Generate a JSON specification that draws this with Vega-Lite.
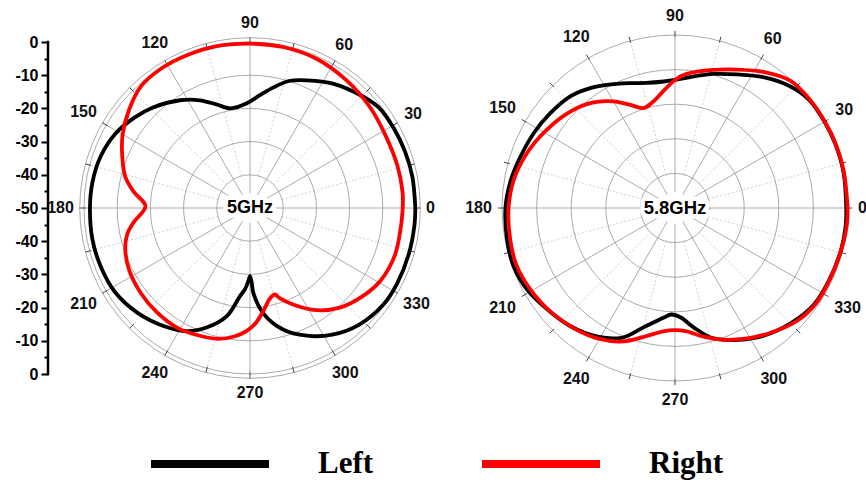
{
"$schema": "https://vega.github.io/schema/vega-lite/v6.json",
"width": 866, "height": 487, "autosize": "none", "padding": 0, "background": "white",
"config": {"view": {"stroke": null}, "font": "Liberation Sans",
  "axisY": {"domain": false, "grid": false, "title": null, "tickColor": "black", "tickWidth": 2, "labelFont": "Liberation Sans", "labelFontSize": 16, "labelFontWeight": "bold", "labelColor": "black", "labelPadding": 3}},
"datasets": {
"pattern": [
{"freq":"5GHz","port":"Left","angle":0,"gain":-0.2},{"freq":"5GHz","port":"Left","angle":11,"gain":-0.2},{"freq":"5GHz","port":"Left","angle":20,"gain":-0.3},{"freq":"5GHz","port":"Left","angle":29,"gain":-0.5},{"freq":"5GHz","port":"Left","angle":38,"gain":-0.8},{"freq":"5GHz","port":"Left","angle":45,"gain":-2.3},{"freq":"5GHz","port":"Left","angle":56,"gain":-4.9},{"freq":"5GHz","port":"Left","angle":66,"gain":-7.9},{"freq":"5GHz","port":"Left","angle":73,"gain":-10},{"freq":"5GHz","port":"Left","angle":79,"gain":-13},{"freq":"5GHz","port":"Left","angle":85,"gain":-15.9},{"freq":"5GHz","port":"Left","angle":92,"gain":-18.5},{"freq":"5GHz","port":"Left","angle":101,"gain":-19.4},{"freq":"5GHz","port":"Left","angle":108,"gain":-17.2},{"freq":"5GHz","port":"Left","angle":115,"gain":-14.2},{"freq":"5GHz","port":"Left","angle":123,"gain":-11.3},{"freq":"5GHz","port":"Left","angle":134,"gain":-7.9},{"freq":"5GHz","port":"Left","angle":142,"gain":-5.8},{"freq":"5GHz","port":"Left","angle":151,"gain":-3.7},{"freq":"5GHz","port":"Left","angle":161,"gain":-2.4},{"freq":"5GHz","port":"Left","angle":171,"gain":-1.9},{"freq":"5GHz","port":"Left","angle":180,"gain":-1.8},{"freq":"5GHz","port":"Left","angle":191,"gain":-1.6},{"freq":"5GHz","port":"Left","angle":201,"gain":-1.7},{"freq":"5GHz","port":"Left","angle":212,"gain":-2.1},{"freq":"5GHz","port":"Left","angle":223,"gain":-3.7},{"freq":"5GHz","port":"Left","angle":234,"gain":-6},{"freq":"5GHz","port":"Left","angle":243,"gain":-8.4},{"freq":"5GHz","port":"Left","angle":250,"gain":-11.7},{"freq":"5GHz","port":"Left","angle":258,"gain":-16.8},{"freq":"5GHz","port":"Left","angle":263.5,"gain":-23.3},{"freq":"5GHz","port":"Left","angle":266.5,"gain":-25.5},{"freq":"5GHz","port":"Left","angle":268.7,"gain":-28},{"freq":"5GHz","port":"Left","angle":270,"gain":-29.5},{"freq":"5GHz","port":"Left","angle":271.3,"gain":-27.5},{"freq":"5GHz","port":"Left","angle":272.2,"gain":-24.5},{"freq":"5GHz","port":"Left","angle":277,"gain":-18.2},{"freq":"5GHz","port":"Left","angle":285,"gain":-12.2},{"freq":"5GHz","port":"Left","angle":294,"gain":-7.9},{"freq":"5GHz","port":"Left","angle":303,"gain":-4.5},{"freq":"5GHz","port":"Left","angle":313,"gain":-1.9},{"freq":"5GHz","port":"Left","angle":324,"gain":-0.4},{"freq":"5GHz","port":"Left","angle":333,"gain":-0.2},{"freq":"5GHz","port":"Left","angle":344,"gain":-0.2},{"freq":"5GHz","port":"Left","angle":354,"gain":-0.2},{"freq":"5GHz","port":"Left","angle":360,"gain":-0.2},
{"freq":"5GHz","port":"Right","angle":0,"gain":-4.0},{"freq":"5GHz","port":"Right","angle":6,"gain":-3.8},{"freq":"5GHz","port":"Right","angle":16,"gain":-3.8},{"freq":"5GHz","port":"Right","angle":28,"gain":-3.7},{"freq":"5GHz","port":"Right","angle":40,"gain":-2.8},{"freq":"5GHz","port":"Right","angle":53,"gain":-1.8},{"freq":"5GHz","port":"Right","angle":66,"gain":-0.8},{"freq":"5GHz","port":"Right","angle":78,"gain":-0.5},{"freq":"5GHz","port":"Right","angle":90,"gain":-0.5},{"freq":"5GHz","port":"Right","angle":102,"gain":-0.2},{"freq":"5GHz","port":"Right","angle":112,"gain":-0.2},{"freq":"5GHz","port":"Right","angle":122,"gain":-0.2},{"freq":"5GHz","port":"Right","angle":132,"gain":-0.8},{"freq":"5GHz","port":"Right","angle":141,"gain":-3.1},{"freq":"5GHz","port":"Right","angle":150,"gain":-5.7},{"freq":"5GHz","port":"Right","angle":158,"gain":-8.5},{"freq":"5GHz","port":"Right","angle":166,"gain":-11.3},{"freq":"5GHz","port":"Right","angle":172,"gain":-14.6},{"freq":"5GHz","port":"Right","angle":179,"gain":-18.5},{"freq":"5GHz","port":"Right","angle":187,"gain":-14.7},{"freq":"5GHz","port":"Right","angle":192,"gain":-12.2},{"freq":"5GHz","port":"Right","angle":198,"gain":-10.5},{"freq":"5GHz","port":"Right","angle":207,"gain":-9.1},{"freq":"5GHz","port":"Right","angle":218,"gain":-8.3},{"freq":"5GHz","port":"Right","angle":228,"gain":-7.9},{"freq":"5GHz","port":"Right","angle":239,"gain":-7.8},{"freq":"5GHz","port":"Right","angle":249,"gain":-8.7},{"freq":"5GHz","port":"Right","angle":256,"gain":-9.4},{"freq":"5GHz","port":"Right","angle":263,"gain":-11},{"freq":"5GHz","port":"Right","angle":268.5,"gain":-13},{"freq":"5GHz","port":"Right","angle":273,"gain":-15.4},{"freq":"5GHz","port":"Right","angle":278,"gain":-19.2},{"freq":"5GHz","port":"Right","angle":282,"gain":-21.9},{"freq":"5GHz","port":"Right","angle":286,"gain":-22.9},{"freq":"5GHz","port":"Right","angle":288,"gain":-21.5},{"freq":"5GHz","port":"Right","angle":294,"gain":-18.2},{"freq":"5GHz","port":"Right","angle":303,"gain":-13.3},{"freq":"5GHz","port":"Right","angle":312,"gain":-9.6},{"freq":"5GHz","port":"Right","angle":322,"gain":-6.9},{"freq":"5GHz","port":"Right","angle":331,"gain":-5},{"freq":"5GHz","port":"Right","angle":342,"gain":-4.1},{"freq":"5GHz","port":"Right","angle":353,"gain":-4.2},{"freq":"5GHz","port":"Right","angle":360,"gain":-4.0},
{"freq":"5.8GHz","port":"Left","angle":0,"gain":-0.5},{"freq":"5.8GHz","port":"Left","angle":12,"gain":-0.2},{"freq":"5.8GHz","port":"Left","angle":22,"gain":-0.1},{"freq":"5.8GHz","port":"Left","angle":30,"gain":-0.1},{"freq":"5.8GHz","port":"Left","angle":39,"gain":-0.2},{"freq":"5.8GHz","port":"Left","angle":47,"gain":-1.7},{"freq":"5.8GHz","port":"Left","angle":56,"gain":-4.4},{"freq":"5.8GHz","port":"Left","angle":65,"gain":-7.4},{"freq":"5.8GHz","port":"Left","angle":74,"gain":-9.7},{"freq":"5.8GHz","port":"Left","angle":83.5,"gain":-11.9},{"freq":"5.8GHz","port":"Left","angle":90,"gain":-13},{"freq":"5.8GHz","port":"Left","angle":95,"gain":-13.3},{"freq":"5.8GHz","port":"Left","angle":103,"gain":-12.9},{"freq":"5.8GHz","port":"Left","angle":110,"gain":-11.6},{"freq":"5.8GHz","port":"Left","angle":119,"gain":-9.3},{"freq":"5.8GHz","port":"Left","angle":125,"gain":-7.6},{"freq":"5.8GHz","port":"Left","angle":133,"gain":-5.8},{"freq":"5.8GHz","port":"Left","angle":143,"gain":-4.7},{"freq":"5.8GHz","port":"Left","angle":152,"gain":-3.8},{"freq":"5.8GHz","port":"Left","angle":162,"gain":-2.9},{"freq":"5.8GHz","port":"Left","angle":171,"gain":-1.8},{"freq":"5.8GHz","port":"Left","angle":180,"gain":-1},{"freq":"5.8GHz","port":"Left","angle":191,"gain":-0.6},{"freq":"5.8GHz","port":"Left","angle":200,"gain":-0.4},{"freq":"5.8GHz","port":"Left","angle":209,"gain":-1.2},{"freq":"5.8GHz","port":"Left","angle":218,"gain":-2.8},{"freq":"5.8GHz","port":"Left","angle":228,"gain":-4.3},{"freq":"5.8GHz","port":"Left","angle":239,"gain":-6.6},{"freq":"5.8GHz","port":"Left","angle":248,"gain":-9.6},{"freq":"5.8GHz","port":"Left","angle":255,"gain":-14.2},{"freq":"5.8GHz","port":"Left","angle":264,"gain":-18.1},{"freq":"5.8GHz","port":"Left","angle":268,"gain":-19.2},{"freq":"5.8GHz","port":"Left","angle":273,"gain":-18.3},{"freq":"5.8GHz","port":"Left","angle":279,"gain":-15},{"freq":"5.8GHz","port":"Left","angle":286,"gain":-10.9},{"freq":"5.8GHz","port":"Left","angle":296,"gain":-7.6},{"freq":"5.8GHz","port":"Left","angle":304.5,"gain":-5.1},{"freq":"5.8GHz","port":"Left","angle":315,"gain":-2.8},{"freq":"5.8GHz","port":"Left","angle":325,"gain":-1.1},{"freq":"5.8GHz","port":"Left","angle":335,"gain":-0.8},{"freq":"5.8GHz","port":"Left","angle":346,"gain":-0.5},{"freq":"5.8GHz","port":"Left","angle":354,"gain":-0.4},{"freq":"5.8GHz","port":"Left","angle":360,"gain":-0.5},
{"freq":"5.8GHz","port":"Right","angle":0,"gain":-0.1},{"freq":"5.8GHz","port":"Right","angle":12,"gain":-0.1},{"freq":"5.8GHz","port":"Right","angle":21,"gain":0},{"freq":"5.8GHz","port":"Right","angle":30,"gain":0},{"freq":"5.8GHz","port":"Right","angle":39,"gain":0},{"freq":"5.8GHz","port":"Right","angle":48,"gain":-0.4},{"freq":"5.8GHz","port":"Right","angle":57,"gain":-3.1},{"freq":"5.8GHz","port":"Right","angle":66,"gain":-6.2},{"freq":"5.8GHz","port":"Right","angle":74.5,"gain":-8.6},{"freq":"5.8GHz","port":"Right","angle":85,"gain":-11.1},{"freq":"5.8GHz","port":"Right","angle":90,"gain":-13},{"freq":"5.8GHz","port":"Right","angle":96,"gain":-16.2},{"freq":"5.8GHz","port":"Right","angle":101.5,"gain":-18.6},{"freq":"5.8GHz","port":"Right","angle":107.5,"gain":-19.7},{"freq":"5.8GHz","port":"Right","angle":113.5,"gain":-17.5},{"freq":"5.8GHz","port":"Right","angle":120,"gain":-14.4},{"freq":"5.8GHz","port":"Right","angle":129,"gain":-11},{"freq":"5.8GHz","port":"Right","angle":139,"gain":-8.5},{"freq":"5.8GHz","port":"Right","angle":150,"gain":-6.3},{"freq":"5.8GHz","port":"Right","angle":160,"gain":-4.3},{"freq":"5.8GHz","port":"Right","angle":170,"gain":-2.7},{"freq":"5.8GHz","port":"Right","angle":180,"gain":-1.9},{"freq":"5.8GHz","port":"Right","angle":191,"gain":-1.5},{"freq":"5.8GHz","port":"Right","angle":200,"gain":-1.3},{"freq":"5.8GHz","port":"Right","angle":209,"gain":-2},{"freq":"5.8GHz","port":"Right","angle":220,"gain":-3.2},{"freq":"5.8GHz","port":"Right","angle":230,"gain":-4.6},{"freq":"5.8GHz","port":"Right","angle":240,"gain":-6.3},{"freq":"5.8GHz","port":"Right","angle":249,"gain":-8.7},{"freq":"5.8GHz","port":"Right","angle":257.5,"gain":-12.1},{"freq":"5.8GHz","port":"Right","angle":264.5,"gain":-14.2},{"freq":"5.8GHz","port":"Right","angle":270,"gain":-14.7},{"freq":"5.8GHz","port":"Right","angle":275.5,"gain":-14.2},{"freq":"5.8GHz","port":"Right","angle":282.5,"gain":-11.9},{"freq":"5.8GHz","port":"Right","angle":290,"gain":-9.5},{"freq":"5.8GHz","port":"Right","angle":299,"gain":-6.9},{"freq":"5.8GHz","port":"Right","angle":307,"gain":-4.7},{"freq":"5.8GHz","port":"Right","angle":317,"gain":-2},{"freq":"5.8GHz","port":"Right","angle":326,"gain":-0.8},{"freq":"5.8GHz","port":"Right","angle":336,"gain":-0.7},{"freq":"5.8GHz","port":"Right","angle":347,"gain":-0.4},{"freq":"5.8GHz","port":"Right","angle":354,"gain":-0.1},{"freq":"5.8GHz","port":"Right","angle":360,"gain":-0.1}
],
"rings": [
{"panel":"L","db":-40},{"panel":"L","db":-30},{"panel":"L","db":-20},{"panel":"L","db":-10},{"panel":"L","db":0},{"panel":"L","db":1.3},
{"panel":"R","db":-40},{"panel":"R","db":-30},{"panel":"R","db":-20},{"panel":"R","db":-10},{"panel":"R","db":0}
],
"spokes": [
{"angle":0,"kind":"major"},{"angle":30,"kind":"major"},{"angle":60,"kind":"major"},{"angle":90,"kind":"major"},{"angle":120,"kind":"major"},{"angle":150,"kind":"major"},{"angle":180,"kind":"major"},{"angle":210,"kind":"major"},{"angle":240,"kind":"major"},{"angle":270,"kind":"major"},{"angle":300,"kind":"major"},{"angle":330,"kind":"major"},
{"angle":15,"kind":"minor"},{"angle":45,"kind":"minor"},{"angle":75,"kind":"minor"},{"angle":105,"kind":"minor"},{"angle":135,"kind":"minor"},{"angle":165,"kind":"minor"},{"angle":195,"kind":"minor"},{"angle":225,"kind":"minor"},{"angle":255,"kind":"minor"},{"angle":285,"kind":"minor"},{"angle":315,"kind":"minor"},{"angle":345,"kind":"minor"}
],
"alabels": [
{"angle":0,"label":"0"},{"angle":30,"label":"30"},{"angle":60,"label":"60"},{"angle":90,"label":"90"},{"angle":120,"label":"120"},{"angle":150,"label":"150"},{"angle":180,"label":"180"},{"angle":210,"label":"210"},{"angle":240,"label":"240"},{"angle":270,"label":"270"},{"angle":300,"label":"300"},{"angle":330,"label":"330"}
],
"centers": [{"panel":"L","label":"5GHz"},{"panel":"R","label":"5.8GHz"}]
},
"layer": [
{
"encoding": {
  "y": {"type": "quantitative", "scale": {"domain": [-84.036, 62.651], "nice": false, "zero": false},
        "axis": {"values": [-50,-45,-40,-35,-30,-25,-20,-15,-10,-5,0,5,10,15,20,25,30,35,40,45,50],
                 "labelExpr": "abs(datum.value) % 10 == 0 ? '' + (abs(datum.value) - 50) : ''",
                 "offset": -48, "orient": "left",
                 "tickSize": {"condition": {"test": "abs(datum.value) % 10 == 0", "value": 7}, "value": 4}}}
},
"layer": [
{"data": {"name": "spokes"},
 "transform": [{"filter": "datum.kind == 'minor'"},{"calculate": "cos(datum.angle*PI/180)", "as": "c"},{"calculate": "sin(datum.angle*PI/180)", "as": "s"},{"calculate": "10*datum.c", "as": "x1"},{"calculate": "10*datum.s", "as": "y1"},{"calculate": "50*datum.c", "as": "x2"},{"calculate": "50*datum.s", "as": "y2"}],
 "mark": {"type": "rule", "color": "#c4c4c4", "strokeWidth": 0.8, "strokeDash": [2, 2]},
 "encoding": {
  "x": {"field": "x1", "type": "quantitative", "scale": {"domain": [-75.301, 185.542], "nice": false, "zero": false}, "axis": null},
  "y": {"field": "y1"},
  "x2": {"field": "x2"}, "y2": {"field": "y2"}}},
{"data": {"name": "rings"},
 "transform": [{"filter": "datum.panel == 'L'"},{"calculate": "datum.db + 50", "as": "r"}],
 "mark": {"type": "arc", "filled": false, "color": "#a0a0a0", "strokeWidth": 0.9, "theta": 0, "theta2": 6.283185307179586},
 "encoding": {
  "x": {"datum": 0, "type": "quantitative", "scale": {"domain": [-75.301, 185.542], "nice": false, "zero": false}, "axis": null},
  "y": {"datum": 0},
  "radius": {"field": "r", "type": "quantitative", "stack": null, "scale": {"type": "linear", "domain": [0, 50], "range": [0, 166], "zero": true}}}},
{"data": {"name": "spokes"},
 "transform": [{"filter": "datum.kind == 'major'"},{"calculate": "cos(datum.angle*PI/180)", "as": "c"},{"calculate": "sin(datum.angle*PI/180)", "as": "s"},{"calculate": "4.5*datum.c", "as": "x1"},{"calculate": "4.5*datum.s", "as": "y1"},{"calculate": "50*datum.c", "as": "x2"},{"calculate": "50*datum.s", "as": "y2"}],
 "mark": {"type": "rule", "color": "#a0a0a0", "strokeWidth": 0.9},
 "encoding": {
  "x": {"field": "x1", "type": "quantitative", "scale": {"domain": [-75.301, 185.542], "nice": false, "zero": false}, "axis": null},
  "y": {"field": "y1"},
  "x2": {"field": "x2"}, "y2": {"field": "y2"}}},
{"data": {"name": "spokes"},
 "transform": [{"calculate": "cos(datum.angle*PI/180)", "as": "c"},{"calculate": "sin(datum.angle*PI/180)", "as": "s"},{"calculate": "49.5*datum.c", "as": "x1"},{"calculate": "49.5*datum.s", "as": "y1"},{"calculate": "51.3*datum.c", "as": "x2"},{"calculate": "51.3*datum.s", "as": "y2"}],
 "mark": {"type": "rule", "color": "#444444", "strokeWidth": 1},
 "encoding": {
  "x": {"field": "x1", "type": "quantitative", "scale": {"domain": [-75.301, 185.542], "nice": false, "zero": false}, "axis": null},
  "y": {"field": "y1"},
  "x2": {"field": "x2"}, "y2": {"field": "y2"}}},
{"data": {"values": [{"axis": "dB"}]},
 "mark": {"type": "rule", "color": "black", "strokeWidth": 2.5},
 "encoding": {
  "x": {"datum": -60.843, "type": "quantitative", "scale": {"domain": [-75.301, 185.542], "nice": false, "zero": false}, "axis": null},
  "y": {"datum": -50.4},
  "y2": {"datum": 50.4}}},
{"data": {"name": "pattern"},
 "transform": [{"filter": "datum.freq == '5GHz'"},{"calculate": "datum.gain + 50", "as": "r"},{"calculate": "datum.r*cos(datum.angle*PI/180)", "as": "px"},{"calculate": "datum.r*sin(datum.angle*PI/180)", "as": "py"}],
 "mark": {"type": "line", "strokeWidth": 3.8, "interpolate": "catmull-rom"},
 "encoding": {
  "x": {"field": "px", "type": "quantitative", "scale": {"domain": [-75.301, 185.542], "nice": false, "zero": false}, "axis": null},
  "y": {"field": "py"},
  "order": {"field": "angle", "type": "quantitative"},
  "color": {"field": "port", "type": "nominal", "scale": {"domain": ["Left", "Right"], "range": ["#000000", "#ff0000"]},
            "legend": {"title": null, "orient": "none", "legendX": 147, "legendY": 401, "direction": "horizontal", "symbolType": "stroke", "symbolSize": 13924, "symbolStrokeWidth": 8, "labelFont": "Liberation Serif", "labelFontSize": 31, "labelFontWeight": "bold", "labelColor": "black", "labelOffset": 45, "columnPadding": 92, "labelLimit": 300}}}},
{"data": {"name": "centers"},
 "transform": [{"filter": "datum.panel == 'L'"}],
 "mark": {"type": "text", "font": "Liberation Sans", "fontSize": 18, "fontWeight": "bold", "fill": "white", "stroke": "white", "strokeWidth": 9, "strokeJoin": "round", "align": "center", "baseline": "middle"},
 "encoding": {
  "x": {"datum": 0, "type": "quantitative", "scale": {"domain": [-75.301, 185.542], "nice": false, "zero": false}, "axis": null},
  "y": {"datum": 0},
  "text": {"field": "label"}}},
{"data": {"name": "centers"},
 "transform": [{"filter": "datum.panel == 'L'"}],
 "mark": {"type": "text", "font": "Liberation Sans", "fontSize": 18, "fontWeight": "bold", "color": "black", "align": "center", "baseline": "middle"},
 "encoding": {
  "x": {"datum": 0, "type": "quantitative", "scale": {"domain": [-75.301, 185.542], "nice": false, "zero": false}, "axis": null},
  "y": {"datum": 0},
  "text": {"field": "label"}}},
{"data": {"name": "alabels"},
 "transform": [{"calculate": "datum.angle*PI/180", "as": "a"},{"calculate": "50 + (10 + 4.5*length(datum.label)*abs(cos(datum.a)) + 9*abs(sin(datum.a)))/3.32", "as": "lr"},{"calculate": "datum.lr*cos(datum.a)", "as": "lx"},{"calculate": "datum.lr*sin(datum.a)", "as": "ly"}],
 "mark": {"type": "text", "font": "Liberation Sans", "fontSize": 16, "fontWeight": "bold", "color": "#111111", "align": "center", "baseline": "middle"},
 "encoding": {
  "x": {"field": "lx", "type": "quantitative", "scale": {"domain": [-75.301, 185.542], "nice": false, "zero": false}, "axis": null},
  "y": {"field": "ly"},
  "text": {"field": "label"}}}
]
},
{
"layer": [
{"data": {"name": "spokes"},
 "transform": [{"filter": "datum.kind == 'minor'"},{"calculate": "cos(datum.angle*PI/180)", "as": "c"},{"calculate": "sin(datum.angle*PI/180)", "as": "s"},{"calculate": "10*datum.c", "as": "x1"},{"calculate": "10*datum.s", "as": "y1"},{"calculate": "50*datum.c", "as": "x2"},{"calculate": "50*datum.s", "as": "y2"}],
 "mark": {"type": "rule", "color": "#c4c4c4", "strokeWidth": 0.8, "strokeDash": [2, 2]},
 "encoding": {
  "x": {"field": "x1", "type": "quantitative", "scale": {"domain": [-195.087, 55.202], "nice": false, "zero": false}, "axis": null},
  "y": {"field": "y1", "type": "quantitative", "scale": {"domain": [-80.636, 60.116], "nice": false, "zero": false}, "axis": null},
  "x2": {"field": "x2"}, "y2": {"field": "y2"}}},
{"data": {"name": "rings"},
 "transform": [{"filter": "datum.panel == 'R'"},{"calculate": "datum.db + 50", "as": "r"}],
 "mark": {"type": "arc", "filled": false, "color": "#a0a0a0", "strokeWidth": 0.9, "theta": 0, "theta2": 6.283185307179586},
 "encoding": {
  "x": {"datum": 0, "type": "quantitative", "scale": {"domain": [-195.087, 55.202], "nice": false, "zero": false}, "axis": null},
  "y": {"datum": 0, "type": "quantitative", "scale": {"domain": [-80.636, 60.116], "nice": false, "zero": false}, "axis": null},
  "radius": {"field": "r", "type": "quantitative", "stack": null, "scale": {"type": "linear", "domain": [0, 50], "range": [0, 173], "zero": true}}}},
{"data": {"name": "spokes"},
 "transform": [{"filter": "datum.kind == 'major'"},{"calculate": "cos(datum.angle*PI/180)", "as": "c"},{"calculate": "sin(datum.angle*PI/180)", "as": "s"},{"calculate": "4.5*datum.c", "as": "x1"},{"calculate": "4.5*datum.s", "as": "y1"},{"calculate": "50*datum.c", "as": "x2"},{"calculate": "50*datum.s", "as": "y2"}],
 "mark": {"type": "rule", "color": "#a0a0a0", "strokeWidth": 0.9},
 "encoding": {
  "x": {"field": "x1", "type": "quantitative", "scale": {"domain": [-195.087, 55.202], "nice": false, "zero": false}, "axis": null},
  "y": {"field": "y1", "type": "quantitative", "scale": {"domain": [-80.636, 60.116], "nice": false, "zero": false}, "axis": null},
  "x2": {"field": "x2"}, "y2": {"field": "y2"}}},
{"data": {"name": "spokes"},
 "transform": [{"calculate": "cos(datum.angle*PI/180)", "as": "c"},{"calculate": "sin(datum.angle*PI/180)", "as": "s"},{"calculate": "49.5*datum.c", "as": "x1"},{"calculate": "49.5*datum.s", "as": "y1"},{"calculate": "51.2*datum.c", "as": "x2"},{"calculate": "51.2*datum.s", "as": "y2"}],
 "mark": {"type": "rule", "color": "#444444", "strokeWidth": 1},
 "encoding": {
  "x": {"field": "x1", "type": "quantitative", "scale": {"domain": [-195.087, 55.202], "nice": false, "zero": false}, "axis": null},
  "y": {"field": "y1", "type": "quantitative", "scale": {"domain": [-80.636, 60.116], "nice": false, "zero": false}, "axis": null},
  "x2": {"field": "x2"}, "y2": {"field": "y2"}}},
{"data": {"name": "pattern"},
 "transform": [{"filter": "datum.freq == '5.8GHz'"},{"calculate": "datum.gain + 50", "as": "r"},{"calculate": "datum.r*cos(datum.angle*PI/180)", "as": "px"},{"calculate": "datum.r*sin(datum.angle*PI/180)", "as": "py"}],
 "mark": {"type": "line", "strokeWidth": 3.8, "interpolate": "catmull-rom"},
 "encoding": {
  "x": {"field": "px", "type": "quantitative", "scale": {"domain": [-195.087, 55.202], "nice": false, "zero": false}, "axis": null},
  "y": {"field": "py", "type": "quantitative", "scale": {"domain": [-80.636, 60.116], "nice": false, "zero": false}, "axis": null},
  "order": {"field": "angle", "type": "quantitative"},
  "color": {"field": "port", "type": "nominal", "scale": {"domain": ["Left", "Right"], "range": ["#000000", "#ff0000"]},
            "legend": {"title": null, "orient": "none", "legendX": 147, "legendY": 401, "direction": "horizontal", "symbolType": "stroke", "symbolSize": 13924, "symbolStrokeWidth": 8, "labelFont": "Liberation Serif", "labelFontSize": 31, "labelFontWeight": "bold", "labelColor": "black", "labelOffset": 45, "columnPadding": 92, "labelLimit": 300}}}},
{"data": {"name": "centers"},
 "transform": [{"filter": "datum.panel == 'R'"}],
 "mark": {"type": "text", "font": "Liberation Sans", "fontSize": 18.5, "fontWeight": "bold", "fill": "white", "stroke": "white", "strokeWidth": 9, "strokeJoin": "round", "align": "center", "baseline": "middle"},
 "encoding": {
  "x": {"datum": 0, "type": "quantitative", "scale": {"domain": [-195.087, 55.202], "nice": false, "zero": false}, "axis": null},
  "y": {"datum": 0, "type": "quantitative", "scale": {"domain": [-80.636, 60.116], "nice": false, "zero": false}, "axis": null},
  "text": {"field": "label"}}},
{"data": {"name": "centers"},
 "transform": [{"filter": "datum.panel == 'R'"}],
 "mark": {"type": "text", "font": "Liberation Sans", "fontSize": 18.5, "fontWeight": "bold", "color": "black", "align": "center", "baseline": "middle"},
 "encoding": {
  "x": {"datum": 0, "type": "quantitative", "scale": {"domain": [-195.087, 55.202], "nice": false, "zero": false}, "axis": null},
  "y": {"datum": 0, "type": "quantitative", "scale": {"domain": [-80.636, 60.116], "nice": false, "zero": false}, "axis": null},
  "text": {"field": "label"}}},
{"data": {"name": "alabels"},
 "transform": [{"calculate": "datum.angle*PI/180", "as": "a"},{"calculate": "50 + (10 + 4.5*length(datum.label)*abs(cos(datum.a)) + 9*abs(sin(datum.a)))/3.46", "as": "lr"},{"calculate": "datum.lr*cos(datum.a)", "as": "lx"},{"calculate": "datum.lr*sin(datum.a)", "as": "ly"}],
 "mark": {"type": "text", "font": "Liberation Sans", "fontSize": 16, "fontWeight": "bold", "color": "#111111", "align": "center", "baseline": "middle"},
 "encoding": {
  "x": {"field": "lx", "type": "quantitative", "scale": {"domain": [-195.087, 55.202], "nice": false, "zero": false}, "axis": null},
  "y": {"field": "ly", "type": "quantitative", "scale": {"domain": [-80.636, 60.116], "nice": false, "zero": false}, "axis": null},
  "text": {"field": "label"}}}
]
}
],
"resolve": {"scale": {"x": "independent", "y": "independent", "radius": "independent"}}
}
